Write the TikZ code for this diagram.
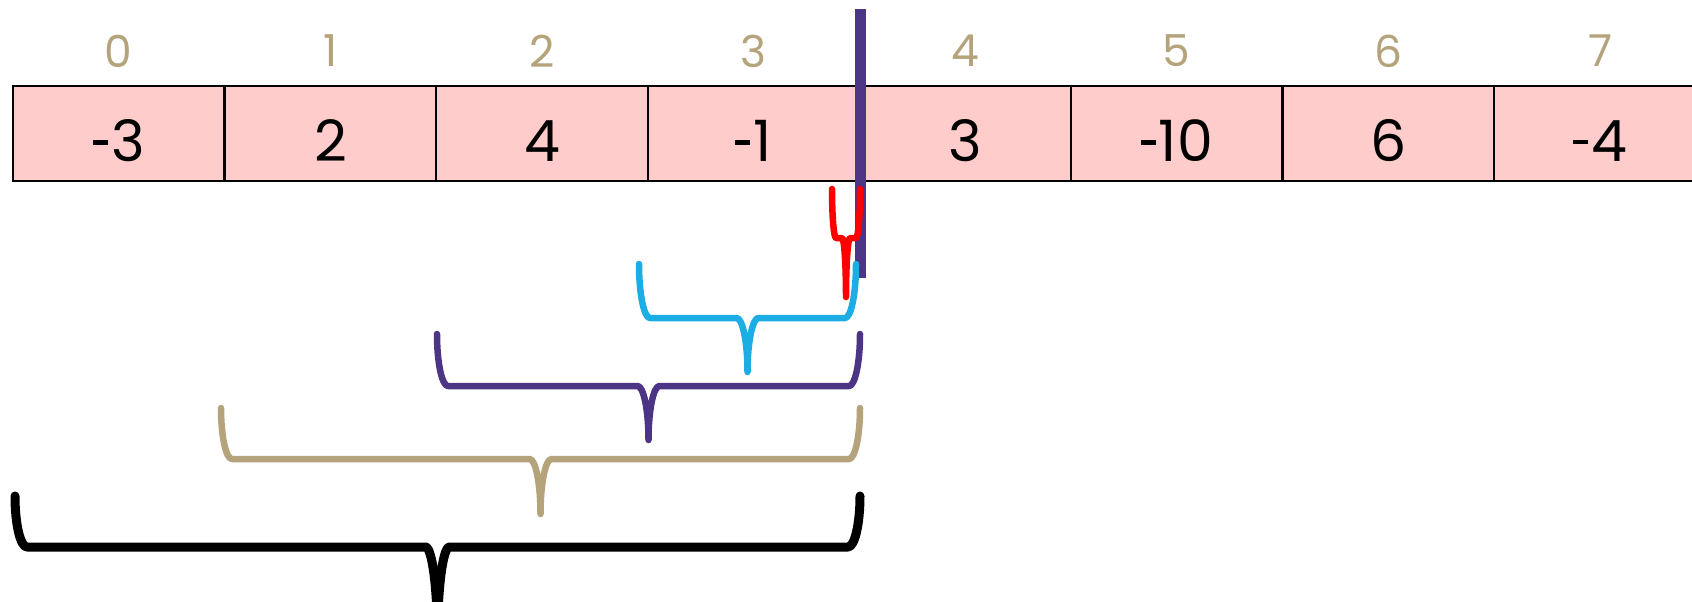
\documentclass[tikz,border=0pt]{standalone}
\usepackage{fontspec}
\setmainfont{Poppins}
\definecolor{cellpink}{HTML}{FFCCCC}
\definecolor{idxtan}{HTML}{B5A47B}
\definecolor{bpurple}{HTML}{4B3584}
\definecolor{bcyan}{HTML}{1CADE4}
\definecolor{bred}{HTML}{FF0000}
\newcommand\mh{\rule[17pt]{15pt}{4.5pt}\kern3pt}
\newcommand\mybrace[7]{%
  \pgfmathsetmacro\xc{(#1+#2)/2}%
  \pgfmathsetmacro\ka{0.552*(#4-#3)}%
  \pgfmathsetmacro\kb{0.552*(#5-#4)}%
  \pgfmathsetmacro\kr{0.448*#6}%
  \draw[#7] (#1,#3) .. controls (#1,#3+\ka) and (#1+\kr,#4) .. (#1+#6,#4)
    -- (\xc-#6,#4) .. controls (\xc-\kr,#4) and (\xc,#5-\kb) .. (\xc,#5)
    .. controls (\xc,#5-\kb) and (\xc+\kr,#4) .. (\xc+#6,#4)
    -- (#2-#6,#4) .. controls (#2-\kr,#4) and (#2,#3+\ka) .. (#2,#3);
}
\tikzset{
  cellbox/.style={draw=black, line width=2.5pt, fill=cellpink, minimum width=211.6pt, minimum height=95pt, inner sep=0pt, outer sep=0pt},
  valtext/.style={font=\fontsize{57}{62}\selectfont, text=black, inner sep=0pt},
  idxtext/.style={font=\fontsize{44}{50}\selectfont, text=idxtan, inner sep=0pt},
  bracestroke/.style={line width=6.5pt, line cap=round, line join=round},
}
\begin{document}
\begin{tikzpicture}[x=1pt,y=-1pt]
\useasboundingbox (0,0) rectangle (1692,602);
\clip (0,0) rectangle (1692,602);
\fill[white] (0,0) rectangle (1692,602);
\foreach \i in {0,...,7} {
  \node[cellbox] (c\i) at ({13+211.6*\i+105.8},133.5) {};
}
\foreach \i/\v in {0/\mh3,1/2,2/4,3/\mh1,4/3,5/\mh10,6/6,7/\mh4} {
  \node[valtext] (v\i) at ({13+211.6*\i+105.8},141) {\v};
  \node[idxtext] (i\i) at ({13+211.6*\i+105.8},51) {\i};
}
% divider pointer
\coordinate (ptop) at (860,9);
\coordinate (pbot) at (860,278);
\draw[bpurple, line width=11pt] (ptop) -- (pbot);
% braces
\mybrace{832}{860}{189}{238}{297}{4}{bracestroke, bred}
\mybrace{639}{856}{264}{318}{372}{11}{bracestroke, bcyan}
\mybrace{437}{860}{334}{386}{440}{11}{bracestroke, bpurple}
\mybrace{221}{860}{408}{459}{514}{11}{bracestroke, idxtan}
\mybrace{15}{860}{496}{547}{640}{12}{bracestroke, line width=9pt, black}
\end{tikzpicture}
\end{document}
